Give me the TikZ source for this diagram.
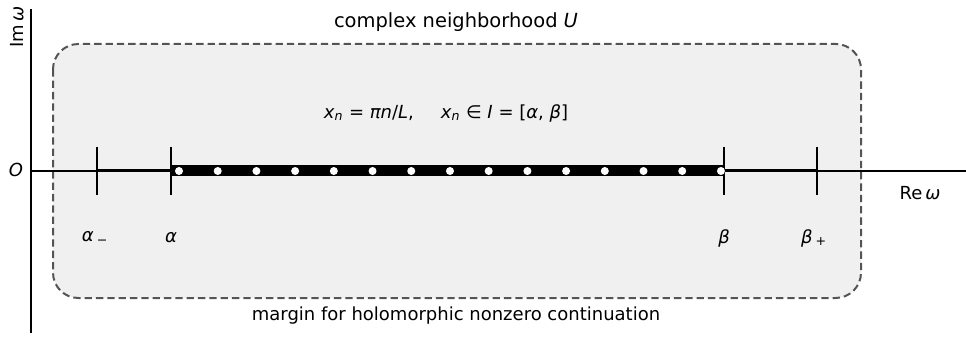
\documentclass[tikz,border=0pt]{standalone}
\usepackage{fontspec}
\setmainfont{DejaVu Sans}
\usetikzlibrary{positioning}

\tikzset{
  region/.style={fill=black!6, draw=black!67, line width=1.5pt,
    dash pattern=on 5.5pt off 3pt, rounded corners=19pt},
  axis/.style={line width=1.1pt},
  tick/.style={inner sep=0pt, minimum width=0pt, minimum height=36pt},
  interval/.style={line width=8.25pt},
  margin/.style={line width=2.25pt},
  node/.style={circle, fill=white, inner sep=0pt, minimum size=6pt},
  lbl/.style={inner sep=1pt},
  title/.style={lbl, font=\fontsize{14.6}{17}\selectfont}
}

\begin{document}
\begin{tikzpicture}[x=0.75pt, y=-0.75pt, font=\fontsize{13.5}{16}\selectfont]
  \useasboundingbox (0,0) rectangle (966,338);

  % Nachbarschaft U
  \draw[region] (53,44) rectangle (861,298);
  \node[title] (Ulabel) at (456,22) {complex neighborhood \textit{U}};
  \node[lbl] (mlabel) at (456,316) {margin for holomorphic nonzero continuation};

  % Achsen
  \coordinate (origin) at (31,171);
  \coordinate (ytop) at (31,9);
  \coordinate (ybot) at (31,333);
  \coordinate (xend) at (966,171);
  \draw[axis] (ybot) -- (ytop);
  \draw[axis] (origin) -- (xend);
  \node[lbl, rotate=90] (imlabel) at (17,27) {Im\,\textit{ω}};
  \node[lbl] (olabel) at (16,170) {\textit{O}};
  \node[lbl] (relabel) at (920,193) {Re\,\textit{ω}};

  % Teilstriche
  \node[tick] (am) at (97,171) {};
  \node[tick] (a)  at (171,171) {};
  \node[tick] (b)  at (724,171) {};
  \node[tick] (bp) at (817,171) {};

  % Rand und Intervall I
  \draw[margin] (am.center) -- (a.center);
  \draw[margin] (b.center) -- (bp.center);
  \draw[interval] (a.center) -- (b.center);
  \foreach \t in {am, a, b, bp}
    \draw[axis] (\t.north) -- (\t.south);

  % Gitterpunkte x_n
  \foreach \i in {0,...,14}
    \node[node] (x\i) at ({179+\i*38.71},171) {};

  % Beschriftungen
  \node[lbl] (amlabel) at (95,238) {\textit{α}\,\textsubscript{−}};
  \node[lbl] (alabel)  at (171,238) {\textit{α}};
  \node[lbl] (blabel)  at (724,238) {\textit{β}};
  \node[lbl] (bplabel) at (814,238) {\textit{β}\,\textsubscript{+}};
  \node[lbl] (formula) at (446,113)
    {\textit{x}\textsubscript{\textit{n}} = \textit{πn}/\textit{L},\hspace{1.5em}%
     \textit{x}\textsubscript{\textit{n}} ∈ \textit{I} = [\textit{α}, \textit{β}]};
\end{tikzpicture}
\end{document}
